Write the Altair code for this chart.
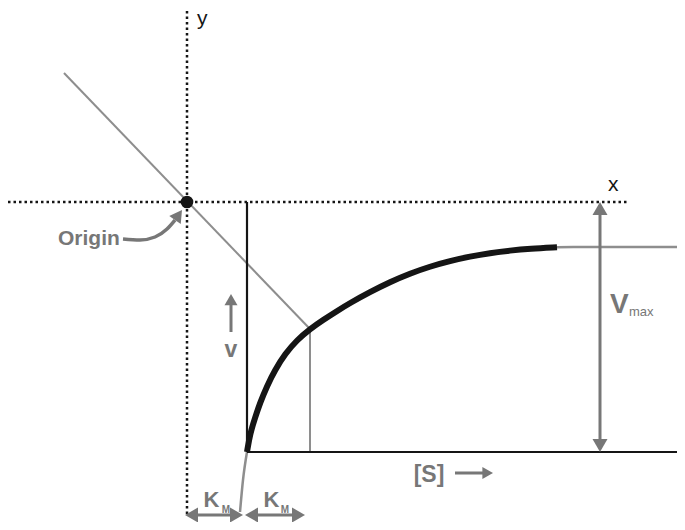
import altair as alt
import pandas as pd

# ---------------- data (diagram units: [S] to the right, v upward; the [S] and v axes meet at 0,0) ----
KM = 60            # one Km: distance from the origin dot to the v axis
VMAX = 250         # height of the dotted x line above the [S] axis
S_END = 430        # right end of the [S] axis

# Michaelis-Menten curve (thick black part)
curve_s = [0, 3, 8, 13, 20, 28, 38, 50, 63, 76, 90, 103, 123, 143, 163, 183, 203, 223, 243, 263, 283, 310]
curve_v = [0, 18, 34, 49, 66, 82, 98, 112, 123, 132, 141, 149, 160, 170, 178.5, 185.5, 191,
           195.5, 199, 201.5, 203.3, 204.8]
# thin grey continuations of the curve
tail_hi_s = [310, 353, 438]
tail_hi_v = [204.8, 205, 205]
tail_lo_s = [-7, -4, 0]
tail_lo_v = [-60, -28, 0]

# straight line through the origin dot and the half-Vmax point
diag_s = [-183, 63]
diag_v = [379, 123]

# ---------------- helpers ----------------
XS = alt.Scale(domain=[-239, 430], nice=False, zero=False)
YS = alt.Scale(domain=[-70, 444], nice=False, zero=False)
FONT = "Liberation Sans"
GREY = "#777777"
LGREY = "#8e8e8e"
BLACK = "#151515"


def segs(rows, color, width, dash=None):
    df = pd.DataFrame(rows, columns=["u", "v", "u2", "v2"])
    kw = dict(color=color, strokeWidth=width)
    if dash is not None:
        kw["strokeDash"] = dash
    return alt.Chart(df).mark_rule(**kw).encode(
        x=alt.X("u:Q", scale=XS, axis=None),
        y=alt.Y("v:Q", scale=YS, axis=None),
        x2="u2:Q",
        y2="v2:Q",
    )


def path(us, vs, color, width, interp="monotone"):
    df = pd.DataFrame({"u": us, "v": vs, "i": range(len(us))})
    return alt.Chart(df).mark_line(color=color, strokeWidth=width, interpolate=interp).encode(
        x=alt.X("u:Q", scale=XS, axis=None),
        y=alt.Y("v:Q", scale=YS, axis=None),
        order="i:Q",
    )


def heads(rows, color):
    df = pd.DataFrame(rows, columns=["u", "v", "shape", "angle", "size"])
    return alt.Chart(df).mark_point(filled=True, opacity=1, color=color, strokeWidth=0).encode(
        x=alt.X("u:Q", scale=XS, axis=None),
        y=alt.Y("v:Q", scale=YS, axis=None),
        shape=alt.Shape("shape:N", scale=None),
        angle=alt.Angle("angle:Q", scale=None),
        size=alt.Size("size:Q", scale=None),
    )


def texts(rows, color, size, weight="normal", align="left"):
    df = pd.DataFrame(rows, columns=["u", "v", "t"])
    return alt.Chart(df).mark_text(
        color=color, fontSize=size, fontWeight=weight, font=FONT,
        align=align, baseline="alphabetic",
    ).encode(
        x=alt.X("u:Q", scale=XS, axis=None),
        y=alt.Y("v:Q", scale=YS, axis=None),
        text="t:N",
    )


# ---------------- layers ----------------
dotted = segs([[-KM, -62, -KM, 444], [-239, VMAX, 381, VMAX]], BLACK, 2.5, [2.5, 3])
axes = segs([[0, 0, 0, VMAX], [0, 0, S_END, 0]], BLACK, 2.2)
thin = segs([[diag_s[0], diag_v[0], diag_s[1], diag_v[1]],
             [diag_s[1], 0, diag_s[1], diag_v[1]]], LGREY, 2)

curve = path(curve_s, curve_v, BLACK, 6, "basis")
tail_hi = path(tail_hi_s, tail_hi_v, LGREY, 2.5)
tail_lo = path(tail_lo_s, tail_lo_v, LGREY, 2.5)

shafts = segs([
    [353, 6, 353, 244],          # Vmax
    [-16, 120, -16, 152],        # v arrow
    [208, -21, 241, -21],        # [S] arrow
    [-56, -63, -10, -63],        # Km left
    [4, -63, 52, -63],           # Km right
], GREY, 3)

arrow_heads = heads([
    [353, 243.5, "triangle-up", 0, 225],
    [353, 6.5, "triangle-down", 0, 225],
    [-16, 152.4, "triangle-up", 0, 169],
    [240.7, -21, "triangle-right", 0, 150],
    [-55.5, -63, "triangle-left", 0, 225],
    [-10.5, -63, "triangle-right", 0, 225],
    [4.5, -63, "triangle-left", 0, 225],
    [51.5, -63, "triangle-right", 0, 225],
    [-68.5, 237, "triangle-up", 35, 196],
], GREY)

origin_arrow = path([-124, -107, -92, -80, -72], [213, 212, 215, 223, 232], GREY, 3.5)

dot = alt.Chart(pd.DataFrame({"u": [-KM], "v": [VMAX]})).mark_circle(
    size=160, color=BLACK, opacity=1
).encode(
    x=alt.X("u:Q", scale=XS, axis=None),
    y=alt.Y("v:Q", scale=YS, axis=None),
)

axis_names = texts([[-50, 427, "y"], [361, 261, "x"]], BLACK, 21)
origin_txt = texts([[-189, 207, "Origin"]], GREY, 21, "bold")
v_txt = texts([[-16, 95, "v"], [182, -30, "[S]"]], GREY, 23, "bold", "center")
V_txt = texts([[363, 139, "V"]], GREY, 28, "bold")
max_txt = texts([[382, 136, "max"]], GREY, 13)
K_txt = texts([[-35.5, -55, "K"], [24.5, -55, "K"]], GREY, 22, "bold", "center")
M_txt = texts([[-21, -61, "M"], [38, -61, "M"]], GREY, 10, "bold", "center")

chart = alt.layer(
    dotted, thin, tail_hi, tail_lo, axes, curve, shafts, arrow_heads, origin_arrow, dot,
    axis_names, origin_txt, v_txt, V_txt, max_txt, K_txt, M_txt,
).properties(
    width=669, height=514, padding=0,
    autosize=alt.AutoSizeParams(type="none"),
).configure_view(stroke=None)

chart.save("out.html", embed_options={"renderer": "svg", "actions": False})
